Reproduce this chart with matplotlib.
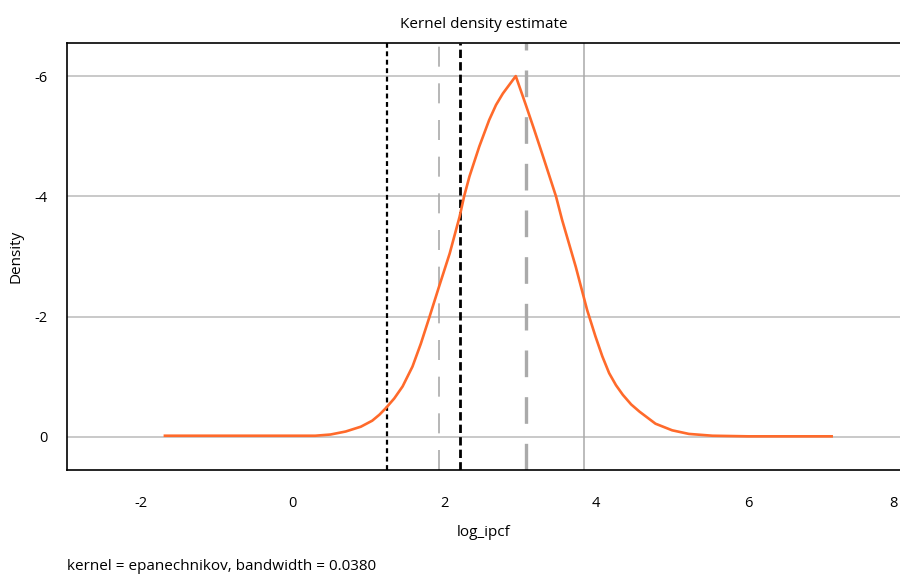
import numpy as np
import matplotlib.pyplot as plt
from matplotlib.transforms import ScaledTranslation

plt.rcParams['font.family'] = ['Open Sans', 'DejaVu Sans']

# density curve
log_ipcf = [-1.68, 0.0, 0.3, 0.5, 0.7, 0.9, 1.05, 1.145, 1.23, 1.34, 1.45, 1.58,
            1.69, 1.80, 1.93, 2.07, 2.20, 2.26, 2.33, 2.46, 2.59, 2.68, 2.77, 2.94,
            3.07, 3.18, 3.29, 3.47, 3.55, 3.64, 3.73, 3.88, 3.99, 4.08, 4.17, 4.26,
            4.35, 4.46, 4.57, 4.78, 5.0, 5.22, 5.53, 6.0, 7.1]
density = [0.02, 0.02, 0.02, 0.04, 0.09, 0.17, 0.27, 0.37, 0.48, 0.64, 0.84, 1.17,
           1.55, 1.98, 2.50, 3.05, 3.66, 4.0, 4.33, 4.83, 5.27, 5.52, 5.71, 6.0,
           5.53, 5.12, 4.70, 4.0, 3.61, 3.22, 2.83, 2.11, 1.67, 1.34, 1.06, 0.86,
           0.70, 0.54, 0.42, 0.22, 0.11, 0.05, 0.02, 0.01, 0.01]

y_ticks = [0, 2, 4, 6]
y_labels = ['0', '-2', '-4', '-6']
x_ticks = [-2, 0, 2, 4, 6, 8]

# reference lines
dot_line = 1.25
thin_dash = 1.93
black_dash = 2.21
thick_dash = 3.08
solid_line = 3.84

fig = plt.figure(figsize=(9, 5.75), dpi=100)
ax = fig.add_axes([0.0744, 0.1826, 1 - 0.0744, 0.7426])

for yv in y_ticks:
    ax.axhline(yv, color='#bbbbbb', lw=1.1, zorder=1)

ax.axvline(dot_line, color='black', lw=1.6, linestyle=(0, (2.2, 1.6)), zorder=2)
ax.axvline(thin_dash, color='#aaaaaa', lw=1.2, linestyle=(0, (12, 10)), zorder=2)
ax.axvline(black_dash, color='black', lw=2.0, linestyle=(0, (3, 1.5)), zorder=2)
ax.axvline(thick_dash, color='#aaaaaa', lw=2.4, linestyle=(0, (8, 6)), zorder=2)
ax.axvline(solid_line, color='#aaaaaa', lw=1.1, zorder=2)

ax.plot(log_ipcf, density, color='#ff6a2b', lw=1.9, zorder=3)

ax.set_xlim(-2.97, 7.99)
ax.set_ylim(-0.55, 6.55)
ax.set_xticks(x_ticks)
ax.set_xticklabels([str(v) for v in x_ticks])
ax.set_yticks(y_ticks)
ax.set_yticklabels(y_labels)
ax.tick_params(length=0, labelsize=10.5)
ax.tick_params(axis='x', pad=19)
ax.tick_params(axis='y', pad=14)

# last x label sits a bit inside the edge
last = ax.get_xticklabels()[-1]
last.set_transform(last.get_transform() + ScaledTranslation(-0.07, 0, fig.dpi_scale_trans))

for s in ax.spines.values():
    s.set_linewidth(1.2)
ax.spines['right'].set_visible(False)

ax.set_title('Kernel density estimate', fontsize=11, pad=11)
ax.set_xlabel('log_ipcf', fontsize=11, labelpad=10)
ax.set_ylabel('Density', fontsize=11, labelpad=8)

fig.text(67 / 900, 1 - 566 / 575, 'kernel = epanechnikov, bandwidth = 0.0380',
         fontsize=11, va='center', ha='left')

fig.savefig('out.png', dpi=100)
